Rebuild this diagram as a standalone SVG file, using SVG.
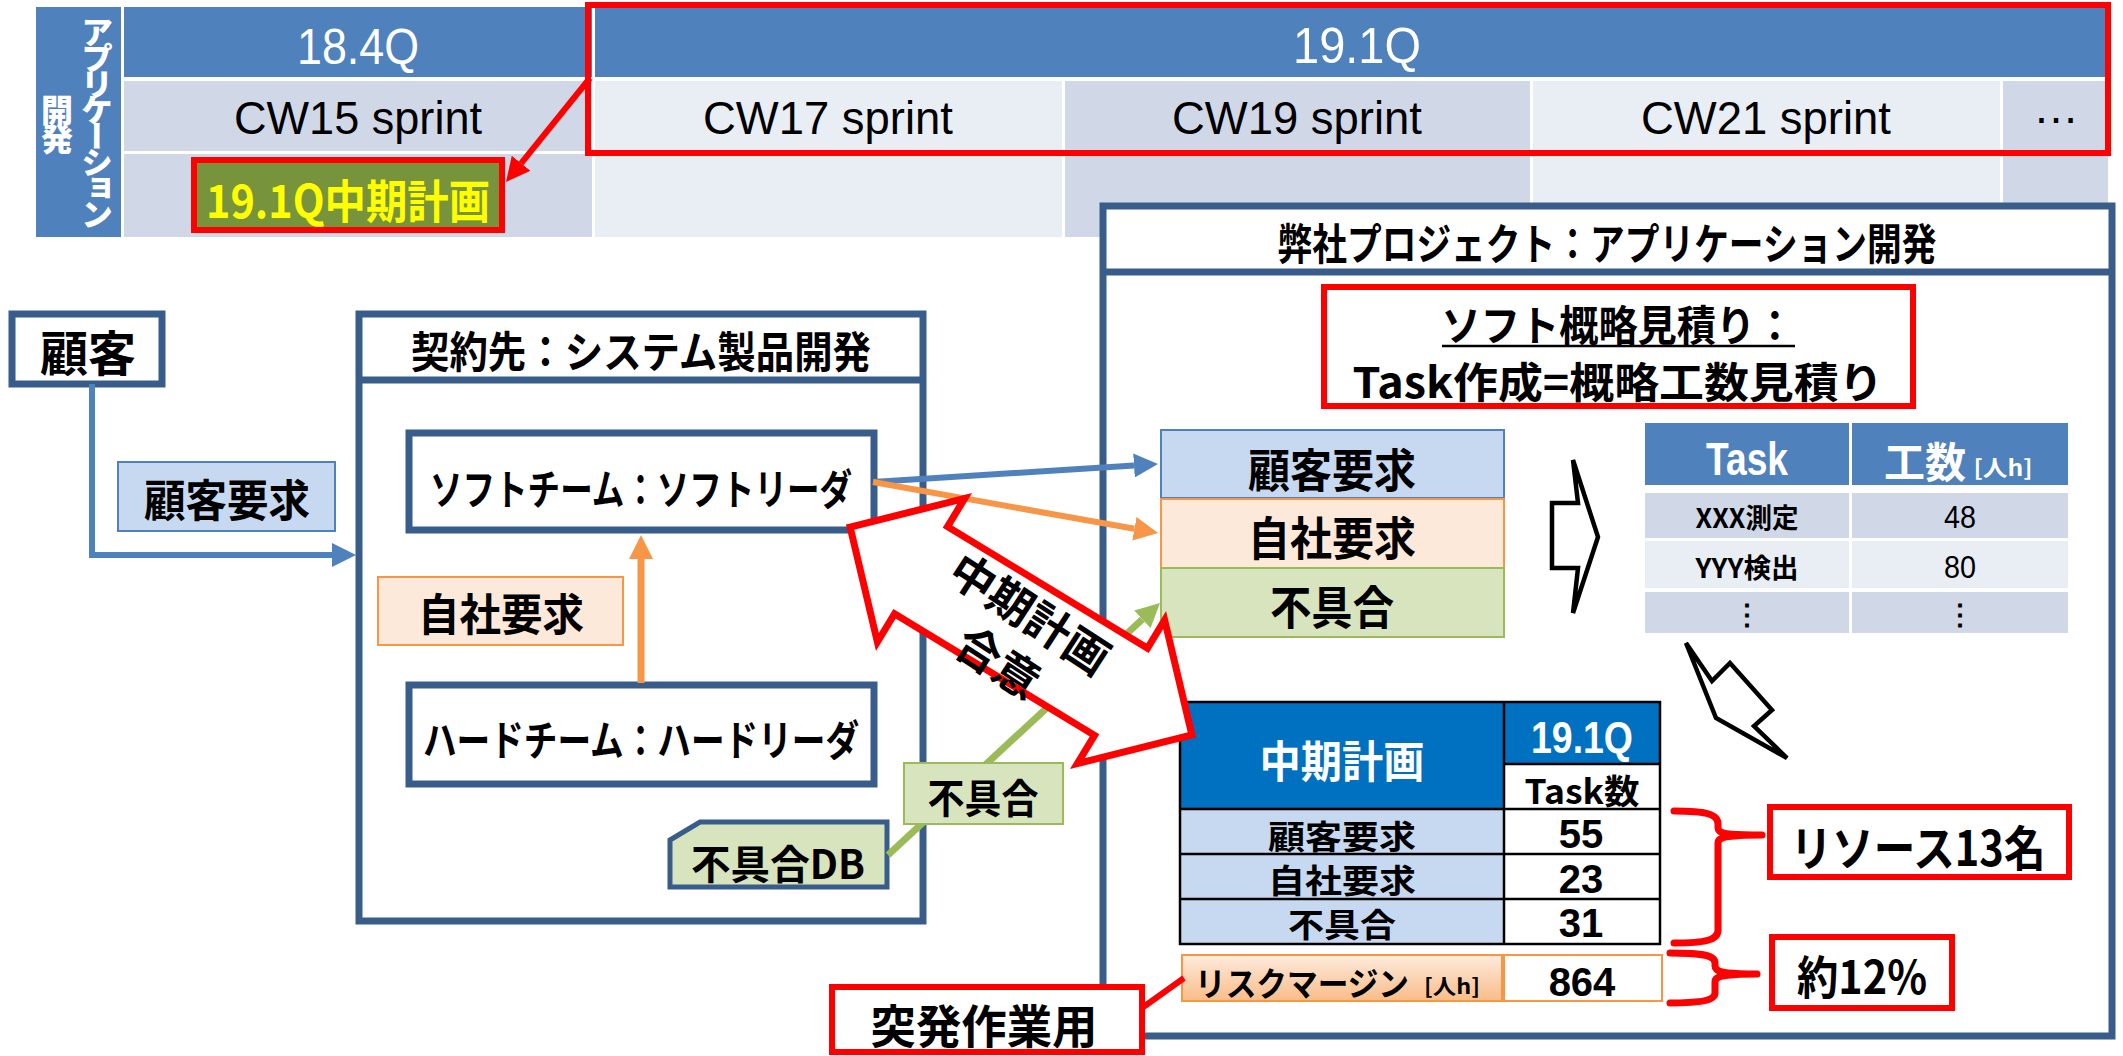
<svg xmlns="http://www.w3.org/2000/svg" width="2123" height="1056" viewBox="0 0 2123 1056">
<defs>
<style>
.jp{font-family:"Noto Sans CJK JP","Noto Sans CJK SC",sans-serif;font-weight:700}
.en{font-family:"Liberation Sans",Arial,sans-serif}
.c{text-anchor:middle;dominant-baseline:central}
.vt{writing-mode:vertical-rl;font-weight:900}
.hdr{fill:#4F81BD}
.dk{fill:#D0D8E8}
.lt{fill:#E9EDF4}
.box{fill:#fff;stroke:#385D8A;stroke-width:7}
.red{fill:#fff;stroke:#FF0000;stroke-width:6}
.grid{fill:none;stroke:#000;stroke-width:2.5}
.brace{fill:none;stroke:#FF0000;stroke-width:7;stroke-linecap:round;stroke-linejoin:round}
.blk{fill:#fff;stroke:#000;stroke-width:4.5;stroke-linejoin:miter}
</style>
<marker id="mBlue" markerUnits="userSpaceOnUse" markerWidth="24" markerHeight="24" viewBox="0 0 24 24" refX="0" refY="12" orient="auto"><path d="M0,0 L24,12 L0,24 z" fill="#4F81BD"/></marker>
<marker id="mOrange" markerUnits="userSpaceOnUse" markerWidth="24" markerHeight="24" viewBox="0 0 24 24" refX="0" refY="12" orient="auto"><path d="M0,0 L24,12 L0,24 z" fill="#F79646"/></marker>
<marker id="mGreen" markerUnits="userSpaceOnUse" markerWidth="24" markerHeight="24" viewBox="0 0 24 24" refX="0" refY="12" orient="auto"><path d="M0,0 L24,12 L0,24 z" fill="#9BBB59"/></marker>
<marker id="mRed" markerUnits="userSpaceOnUse" markerWidth="24" markerHeight="24" viewBox="0 0 24 24" refX="0" refY="12" orient="auto"><path d="M0,0 L24,12 L0,24 z" fill="#FF0000"/></marker>
<linearGradient id="gOr" x1="0" y1="0" x2="0" y2="1"><stop offset="0" stop-color="#FEEBDD"/><stop offset="1" stop-color="#F9BC88"/></linearGradient>
</defs>
<rect width="2123" height="1056" fill="#fff"/>

<!-- timeline table -->
<g id="timeline">
<rect x="36" y="7" width="85" height="230" class="hdr"/>
<rect x="124" y="7" width="468" height="70" class="hdr"/>
<rect x="595" y="7" width="1513" height="70" class="hdr"/>
<rect x="124" y="81" width="468" height="70" class="dk"/>
<rect x="595" y="81" width="467" height="70" class="lt"/>
<rect x="1065" y="81" width="465" height="70" class="dk"/>
<rect x="1533" y="81" width="467" height="70" class="lt"/>
<rect x="2003" y="81" width="105" height="70" class="dk"/>
<rect x="124" y="154" width="468" height="83" class="dk"/>
<rect x="595" y="154" width="467" height="83" class="lt"/>
<rect x="1065" y="154" width="465" height="83" class="dk"/>
<rect x="1533" y="154" width="467" height="83" class="lt"/>
<rect x="2003" y="154" width="105" height="83" class="dk"/>
<text x="97" y="16" class="jp vt" font-size="32" letter-spacing="-6" fill="#fff">アプリケーション</text>
<text x="57" y="94" class="jp vt" font-size="32" letter-spacing="-3" fill="#fff">開発</text>
<text x="358" y="47" class="en c" font-size="50" fill="#fff" textLength="122" lengthAdjust="spacingAndGlyphs">18.4Q</text>
<text x="1357" y="46" class="en c" font-size="50" fill="#fff" textLength="128" lengthAdjust="spacingAndGlyphs">19.1Q</text>
<text x="358" y="117" class="en c" font-size="47" textLength="248" lengthAdjust="spacingAndGlyphs">CW15 sprint</text>
<text x="828" y="117" class="en c" font-size="47" textLength="250" lengthAdjust="spacingAndGlyphs">CW17 sprint</text>
<text x="1297" y="117" class="en c" font-size="47" textLength="250" lengthAdjust="spacingAndGlyphs">CW19 sprint</text>
<text x="1766" y="117" class="en c" font-size="47" textLength="250" lengthAdjust="spacingAndGlyphs">CW21 sprint</text>
<text x="2056" y="123" class="en" font-size="46" text-anchor="middle">…</text>
</g>
<g id="q191-highlight"><rect x="588" y="5" width="1520" height="148" fill="none" stroke="#FF0000" stroke-width="6"/></g>
<g id="plan191">
<rect x="194" y="160" width="308" height="70" fill="#77933C" stroke="#FF0000" stroke-width="6"/>
<text x="348" y="198" class="jp c" font-size="46" fill="#FFFF00" textLength="284" lengthAdjust="spacingAndGlyphs">19.1Q中期計画</text>
</g>

<!-- our project -->
<g id="project">
<rect x="1103" y="206" width="1009" height="830" class="box"/>
<line x1="1103" y1="272" x2="2112" y2="272" stroke="#385D8A" stroke-width="7"/>
<text x="1607" y="241" class="jp c" font-size="43" textLength="659" lengthAdjust="spacingAndGlyphs">弊社プロジェクト：アプリケーション開発</text>
</g>

<!-- customer -->
<g id="customer">
<rect x="12" y="314" width="150" height="70" class="box"/>
<text x="88" y="350" class="jp c" font-size="48">顧客</text>
</g>

<!-- contractor -->
<g id="contractor">
<rect x="359" y="314" width="564" height="607" class="box"/>
<line x1="359" y1="380" x2="923" y2="380" stroke="#385D8A" stroke-width="7"/>
<text x="641" y="349" class="jp c" font-size="43" textLength="460" lengthAdjust="spacingAndGlyphs">契約先：システム製品開発</text>
</g>
<g id="soft-team">
<rect x="409" y="433" width="465" height="97" class="box"/>
<text x="641" y="486" class="jp c" font-size="42" textLength="422" lengthAdjust="spacingAndGlyphs">ソフトチーム：ソフトリーダ</text>
</g>
<g id="hard-team">
<rect x="409" y="685" width="465" height="99" class="box"/>
<text x="641" y="737" class="jp c" font-size="42" textLength="436" lengthAdjust="spacingAndGlyphs">ハードチーム：ハードリーダ</text>
</g>
<g id="defect-db">
<polygon points="670,840 700,822 887,822 887,887 670,887" fill="#D7E4BD" stroke="#385D8A" stroke-width="5"/>
<text x="778" y="862" class="jp c" font-size="40" textLength="174" lengthAdjust="spacingAndGlyphs">不具合DB</text>
</g>

<!-- requirement stack -->
<g id="req-customer">
<rect x="1161" y="430" width="343" height="68" fill="#C6D9F1" stroke="#4F81BD" stroke-width="2"/>
<text x="1332" y="467" class="jp c" font-size="46" textLength="168" lengthAdjust="spacingAndGlyphs">顧客要求</text>
</g>
<g id="req-own">
<rect x="1161" y="499" width="343" height="69" fill="#FDE9D9" stroke="#F79646" stroke-width="2"/>
<text x="1332" y="535" class="jp c" font-size="46" textLength="168" lengthAdjust="spacingAndGlyphs">自社要求</text>
</g>
<g id="req-defect">
<rect x="1161" y="568" width="343" height="69" fill="#D7E4BD" stroke="#9BBB59" stroke-width="2"/>
<text x="1332" y="604" class="jp c" font-size="46" textLength="124" lengthAdjust="spacingAndGlyphs">不具合</text>
</g>

<!-- estimate note -->
<g id="estimate-note">
<rect x="1324" y="287" width="589" height="119" class="red"/>
<text x="1618" y="322" class="jp c" font-size="42" textLength="353" lengthAdjust="spacingAndGlyphs">ソフト概略見積り：</text>
<line x1="1442" y1="346" x2="1795" y2="346" stroke="#000" stroke-width="2.5"/>
<text x="1618" y="379" class="jp c" font-size="42" textLength="531" lengthAdjust="spacingAndGlyphs">Task作成=概略工数見積り</text>
</g>

<!-- task table -->
<g id="task-table">
<rect x="1645" y="423" width="204" height="62" class="hdr"/>
<rect x="1852" y="423" width="216" height="62" class="hdr"/>
<rect x="1645" y="493" width="204" height="45" class="dk"/>
<rect x="1852" y="493" width="216" height="45" class="dk"/>
<rect x="1645" y="541" width="204" height="47" class="lt"/>
<rect x="1852" y="541" width="216" height="47" class="lt"/>
<rect x="1645" y="592" width="204" height="41" class="dk"/>
<rect x="1852" y="592" width="216" height="41" class="dk"/>
<text x="1747" y="459" class="en c" font-size="46" font-weight="700" fill="#fff" textLength="82" lengthAdjust="spacingAndGlyphs">Task</text>
<text x="1925" y="459" class="jp c" font-size="42" fill="#fff" textLength="82" lengthAdjust="spacingAndGlyphs">工数</text>
<text x="2003" y="466" class="jp c" font-size="22" fill="#fff" font-weight="400" textLength="59" lengthAdjust="spacingAndGlyphs">[人h]</text>
<text x="1747" y="516" class="jp c" font-size="27" textLength="103" lengthAdjust="spacingAndGlyphs">XXX測定</text>
<text x="1960" y="517" class="en c" font-size="31" textLength="32" lengthAdjust="spacingAndGlyphs">48</text>
<text x="1747" y="566" class="jp c" font-size="27" textLength="103" lengthAdjust="spacingAndGlyphs">YYY検出</text>
<text x="1960" y="567" class="en c" font-size="31" textLength="32" lengthAdjust="spacingAndGlyphs">80</text>
<text x="1747" y="612" class="jp c" font-size="28">⋮</text>
<text x="1960" y="612" class="jp c" font-size="28">⋮</text>
</g>

<!-- mid-term plan table -->
<g id="plan-table">
<rect x="1180" y="702" width="324" height="107" fill="#0070C0"/>
<rect x="1504" y="702" width="156" height="62" fill="#0070C0"/>
<rect x="1504" y="764" width="156" height="45" fill="#fff"/>
<rect x="1180" y="809" width="324" height="135" fill="#C6D9F1"/>
<rect x="1504" y="809" width="156" height="135" fill="#fff"/>
<rect x="1180" y="702" width="480" height="242" class="grid"/>
<path d="M1504,702 V944 M1504,764 H1660 M1180,809 H1660 M1180,854 H1660 M1180,899 H1660" class="grid"/>
<text x="1342" y="759" class="jp c" font-size="44" fill="#fff" textLength="165" lengthAdjust="spacingAndGlyphs">中期計画</text>
<text x="1582" y="737" class="en c" font-size="44" font-weight="700" fill="#fff" textLength="102" lengthAdjust="spacingAndGlyphs">19.1Q</text>
<text x="1582" y="789" class="jp c" font-size="34" textLength="115" lengthAdjust="spacingAndGlyphs">Task数</text>
<text x="1342" y="835" class="jp c" font-size="33" textLength="148" lengthAdjust="spacingAndGlyphs">顧客要求</text>
<text x="1342" y="879" class="jp c" font-size="33" textLength="148" lengthAdjust="spacingAndGlyphs">自社要求</text>
<text x="1342" y="923" class="jp c" font-size="33" textLength="108" lengthAdjust="spacingAndGlyphs">不具合</text>
<text x="1581" y="834" class="en c" font-size="40" font-weight="700">55</text>
<text x="1581" y="879" class="en c" font-size="40" font-weight="700">23</text>
<text x="1581" y="923" class="en c" font-size="40" font-weight="700">31</text>
</g>
<g id="risk-margin">
<rect x="1182" y="955" width="320" height="46" fill="url(#gOr)" stroke="#F79646" stroke-width="2"/>
<rect x="1504" y="955" width="158" height="46" fill="#fff" stroke="#F79646" stroke-width="2"/>
<text x="1302" y="982" class="jp c" font-size="33" textLength="214" lengthAdjust="spacingAndGlyphs">リスクマージン</text>
<text x="1452" y="985" class="jp c" font-size="21" font-weight="400" textLength="56" lengthAdjust="spacingAndGlyphs">[人h]</text>
<text x="1582" y="982" class="en c" font-size="40" font-weight="700">864</text>
</g>

<!-- connectors -->
<g id="connectors" fill="none">
<path d="M92,384 V555 H332" stroke="#4F81BD" stroke-width="6" marker-end="url(#mBlue)"/>
<path d="M641,683 V559" stroke="#F79646" stroke-width="7" marker-end="url(#mOrange)"/>
<path d="M873,482 L1134,465.5" stroke="#4F81BD" stroke-width="6" marker-end="url(#mBlue)"/>
<path d="M873,482 L1134.4,528.8" stroke="#F79646" stroke-width="6" marker-end="url(#mOrange)"/>
<path d="M888,855 L1142.4,619.3" stroke="#9BBB59" stroke-width="7" marker-end="url(#mGreen)"/>
<path d="M590,78 L521.1,163.3" stroke="#FF0000" stroke-width="6" marker-end="url(#mRed)"/>
<path d="M1142,1008 L1184,978" stroke="#FF0000" stroke-width="6"/>
</g>

<!-- labels on connectors -->
<g id="label-customer-req">
<rect x="118" y="462" width="217" height="69" fill="#C6D9F1" stroke="#4F81BD" stroke-width="2"/>
<text x="227" y="498" class="jp c" font-size="44" textLength="166" lengthAdjust="spacingAndGlyphs">顧客要求</text>
</g>
<g id="label-own-req">
<rect x="378" y="577" width="245" height="68" fill="#FDE9D9" stroke="#F79646" stroke-width="2"/>
<text x="501" y="612" class="jp c" font-size="44" textLength="166" lengthAdjust="spacingAndGlyphs">自社要求</text>
</g>
<g id="label-defect">
<rect x="904" y="763" width="159" height="61" fill="#D7E4BD" stroke="#9BBB59" stroke-width="2"/>
<text x="983" y="796" class="jp c" font-size="40" textLength="111" lengthAdjust="spacingAndGlyphs">不具合</text>
</g>

<!-- agreement double arrow -->
<g id="agreement" transform="translate(1021,631) rotate(31.3)">
<polygon points="-200,0 -117,-84 -117,-51 117,-51 117,-84 200,0 117,84 117,51 -117,51 -117,84" fill="#fff" stroke="#FF0000" stroke-width="7"/>
<g transform="rotate(1.8)">
<text x="-2" y="-22" class="jp c" font-size="45">中期計画</text>
<text x="-2" y="36" class="jp c" font-size="45">合意</text>
</g>
</g>

<!-- block arrows -->
<g id="arrow-to-tasks"><polygon points="1552,503 1578,503 1573,460 1598,537 1573,613 1578,568 1552,568" class="blk"/></g>
<g id="arrow-to-plan"><polygon points="1686,643 1712,681 1730,663 1772,710 1754,726 1787,758 1716,718" class="blk"/></g>

<!-- braces and callouts -->
<g id="brace-resources">
<path d="M1674,811 C1706,811 1718,814 1718,824 V828 C1718,834 1726,835 1762,835 C1726,835 1718,837 1718,843 V930 C1718,940 1706,943 1674,943" class="brace"/>
</g>
<g id="brace-margin">
<path d="M1670,953 C1702,953 1715,955 1715,963 V966 C1715,972 1722,974 1757,974 C1722,974 1715,976 1715,982 V993 C1715,1000 1702,1003 1670,1003" class="brace"/>
</g>
<g id="resources">
<rect x="1770" y="807" width="299" height="70" class="red"/>
<text x="1918" y="845" class="jp c" font-size="48" textLength="255" lengthAdjust="spacingAndGlyphs">リソース13名</text>
</g>
<g id="ratio">
<rect x="1772" y="937" width="180" height="71" class="red"/>
<text x="1862" y="974" class="jp c" font-size="46" textLength="130" lengthAdjust="spacingAndGlyphs">約12%</text>
</g>
<g id="emergency">
<rect x="832" y="987" width="310" height="65" class="red" stroke-width="7"/>
<text x="984" y="1023" class="jp c" font-size="46" textLength="227" lengthAdjust="spacingAndGlyphs">突発作業用</text>
</g>
</svg>
